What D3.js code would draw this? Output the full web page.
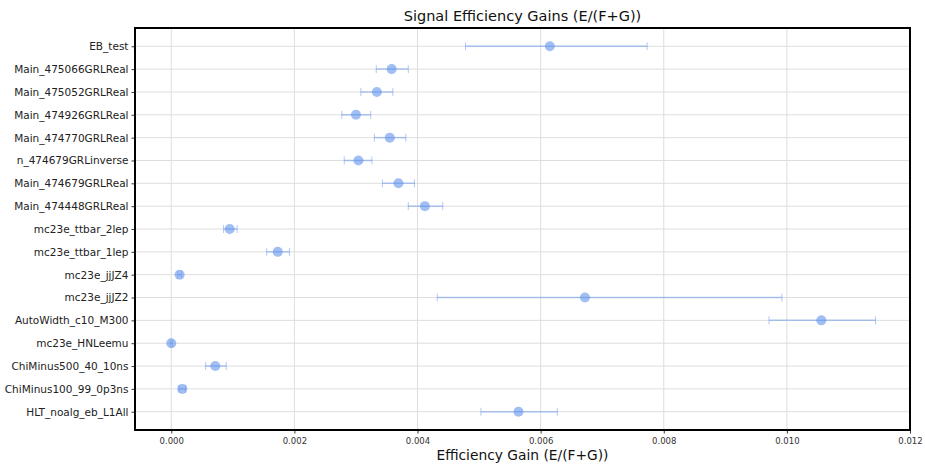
<!DOCTYPE html>
<html>
<head>
<meta charset="utf-8">
<script src="https://cdn.jsdelivr.net/npm/d3@7"></script>
<style>
  body { margin: 0; background: #fff; }
  svg { display: block; font-family: "DejaVu Sans", sans-serif; }
</style>
</head>
<body>
<div class="container_graph"></div>
<script>
// datos (de arriba hacia abajo), etiquetas tal como se ven en la imagen
const names = [
  "EB_test",
  "Main_475066GRLReal",
  "Main_475052GRLReal",
  "Main_474926GRLReal",
  "Main_474770GRLReal",
  "n_474679GRLinverse",
  "Main_474679GRLReal",
  "Main_474448GRLReal",
  "mc23e_ttbar_2lep",
  "mc23e_ttbar_1lep",
  "mc23e_jjJZ4",
  "mc23e_jjJZ2",
  "AutoWidth_c10_M300",
  "mc23e_HNLeemu",
  "ChiMinus500_40_10ns",
  "ChiMinus100_99_0p3ns",
  "HLT_noalg_eb_L1All"
];
const values = [0.00615, 0.00358, 0.00334, 0.00300, 0.00355, 0.00304, 0.00369, 0.00412,
  0.00095, 0.00173, 0.000136, 0.00672, 0.01056, 0.0000, 0.000715, 0.000179, 0.00564];
const lower = [0.00478, 0.00333, 0.00308, 0.00277, 0.00330, 0.00281, 0.00343, 0.00385,
  0.00085, 0.00155, 0.000106, 0.00432, 0.00971, -0.00002, 0.000558, 0.000130, 0.00503];
const upper = [0.00773, 0.00385, 0.00360, 0.00324, 0.00381, 0.00326, 0.00395, 0.00441,
  0.00107, 0.00192, 0.000166, 0.00992, 0.01144, 0.00002, 0.000893, 0.000230, 0.00627];
const xTicks = [0, 0.002, 0.004, 0.006, 0.008, 0.010, 0.012];

const width = 925;
const height = 464;
const margin = { top: 28, right: 15, bottom: 34, left: 135 };
const innerWidth = width - margin.left - margin.right;
const innerHeight = height - margin.top - margin.bottom;

const rows = names.map((n, i) => ({ name: n, i, v: values[i], lo: lower[i], hi: upper[i] }));

const svg = d3.select(".container_graph")
  .append("svg")
  .attr("width", width)
  .attr("height", height);

const x = d3.scaleLinear().domain([-0.000589, 0.012]).range([0, innerWidth]);
const y = d3.scaleLinear().domain([-0.8, names.length - 1 + 0.8]).range([0, innerHeight]);

const g = svg.append("g").attr("transform", `translate(${margin.left},${margin.top})`);

// grilla
g.append("g").selectAll("line").data(xTicks).join("line")
  .attr("x1", d => x(d)).attr("x2", d => x(d))
  .attr("y1", 0).attr("y2", innerHeight)
  .attr("stroke", "#dedede").attr("stroke-width", 1);
g.append("g").selectAll("line").data(rows).join("line")
  .attr("x1", 0).attr("x2", innerWidth)
  .attr("y1", d => y(d.i)).attr("y2", d => y(d.i))
  .attr("stroke", "#dedede").attr("stroke-width", 1);

// barras de error
const eb = g.append("g").attr("stroke", "#6495ed").attr("stroke-opacity", 0.5).attr("stroke-width", 1.5);
eb.selectAll(".bar").data(rows).join("line")
  .attr("x1", d => x(d.lo)).attr("x2", d => x(d.hi))
  .attr("y1", d => y(d.i)).attr("y2", d => y(d.i));
eb.selectAll(".capl").data(rows).join("line")
  .attr("x1", d => x(d.lo)).attr("x2", d => x(d.lo))
  .attr("y1", d => y(d.i) - 4).attr("y2", d => y(d.i) + 4)
  .attr("stroke-width", 1);
eb.selectAll(".caph").data(rows).join("line")
  .attr("x1", d => x(d.hi)).attr("x2", d => x(d.hi))
  .attr("y1", d => y(d.i) - 4).attr("y2", d => y(d.i) + 4)
  .attr("stroke-width", 1);

// puntos
g.append("g").selectAll("circle").data(rows).join("circle")
  .attr("cx", d => x(d.v)).attr("cy", d => y(d.i)).attr("r", 5)
  .attr("fill", "#6495ed").attr("fill-opacity", 0.6);

// ejes
const xAxis = g.append("g").attr("transform", `translate(0,${innerHeight})`)
  .call(d3.axisBottom(x).tickValues(xTicks).tickFormat(d3.format(".3f")).tickSizeOuter(0).tickSize(3.5).tickPadding(4));
xAxis.selectAll("text").attr("font-size", "8.5px").attr("fill", "#333").style("font-family", "DejaVu Sans");
xAxis.select(".domain").remove();
xAxis.selectAll("line").attr("stroke", "#333");

const yAxis = g.append("g")
  .call(d3.axisLeft(y).tickValues(rows.map(d => d.i)).tickFormat(i => names[i]).tickSizeOuter(0).tickSize(3.5).tickPadding(3));
yAxis.selectAll("text").attr("font-size", "10.5px").attr("fill", "#222").style("font-family", "DejaVu Sans");
yAxis.select(".domain").remove();
yAxis.selectAll("line").attr("stroke", "#333");

// marco
g.append("rect").attr("width", innerWidth).attr("height", innerHeight)
  .attr("fill", "none").attr("stroke", "#000").attr("stroke-width", 2);

// titulos
svg.append("text").attr("x", margin.left + innerWidth / 2).attr("y", 21)
  .attr("text-anchor", "middle").attr("font-size", "14.5px").attr("fill", "#111")
  .text("Signal Efficiency Gains (E/(F+G))");
svg.append("text").attr("x", margin.left + innerWidth / 2).attr("y", 460)
  .attr("text-anchor", "middle").attr("font-size", "13.8px").attr("fill", "#111")
  .text("Efficiency Gain (E/(F+G))");
</script>
</body>
</html>
